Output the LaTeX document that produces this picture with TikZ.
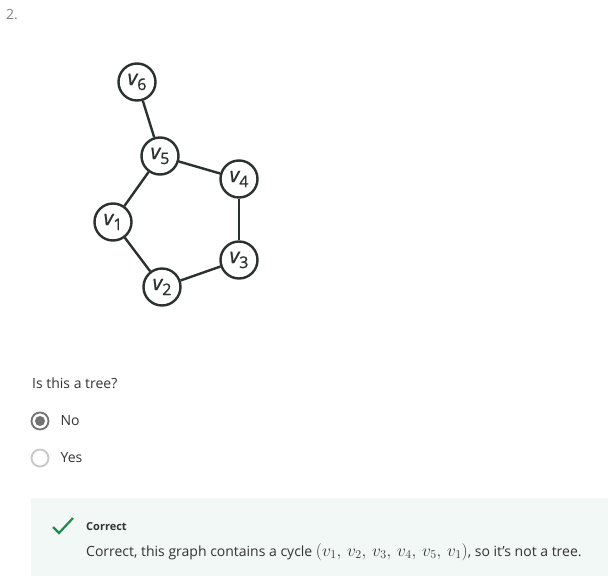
\documentclass[tikz,border=0pt]{standalone}
\usepackage{amsmath}
\usepackage{fontspec}
\setmainfont{Open Sans}
\newfontfamily\labfont[FakeBold=0.9]{Open Sans}
\usetikzlibrary{positioning}
\definecolor{ink}{HTML}{2B3031}
\definecolor{txt}{HTML}{333333}
\definecolor{okbg}{HTML}{F2F8F6}
\definecolor{okgreen}{HTML}{1F8A4E}
\tikzset{vert/.style={draw=ink,circle,line width=2.4pt,minimum size=37pt,inner sep=0pt,fill=white,text=ink}}
\tikzset{ed/.style={draw=ink,line width=2.4pt}}
\tikzset{body/.style={anchor=base west,inner sep=0pt,text=txt,font=\fontsize{14}{17}\selectfont}}
\tikzset{radio/.style={circle,line width=1.8pt,minimum size=17pt,inner sep=0pt}}
\newcommand{\vlab}[1]{{\labfont\fontsize{21}{21}\selectfont\itshape v}\raisebox{-5pt}{\labfont\fontsize{16}{16}\selectfont #1}}

\begin{document}
\begin{tikzpicture}[x=1pt,y=-1pt]
\useasboundingbox (0,0) rectangle (608,580);

\node[body,text=gray] (num) at (6,20) {2.};

% the graph
\node[vert] (v6) at (137,82) {\vlab{6}};
\node[vert] (v5) at (160,156) {\vlab{5}};
\node[vert] (v4) at (239,179) {\vlab{4}};
\node[vert] (v1) at (113,222) {\vlab{1}};
\node[vert] (v3) at (239,260) {\vlab{3}};
\node[vert] (v2) at (162,287) {\vlab{2}};

\draw[ed] (v6) -- (v5);
\draw[ed] (v5) -- (v4);
\draw[ed] (v5) -- (v1);
\draw[ed] (v1) -- (v2);
\draw[ed] (v2) -- (v3);
\draw[ed] (v3) -- (v4);

% question and answers
\node[body] (q) at (32,388) {Is this a tree?};
\node[radio,draw=gray!110] (rno) at (40,421) {};
\fill[gray!110] (rno) circle (5);
\node[radio,draw=gray!45] (ryes) at (40,458) {};
\node[body,anchor=west] (no) [right=11pt of rno] {No};
\node[body,anchor=west] (yes) [right=11pt of ryes] {Yes};

% feedback
\fill[okbg] (31,498) rectangle (608,576);
\coordinate (c1) at (53,527);
\coordinate (c2) at (59,533);
\coordinate (c3) at (73,518);
\draw[okgreen,line width=2.2pt] (c1) -- (c2) -- (c3);
\node[body,font=\fontsize{11}{13}\selectfont\bfseries] (ok) at (86,530) {Correct};
\node[body] (msg) at (86,556) {Correct, this graph contains a cycle {\fontsize{16.5}{17}\selectfont$(v_1,\,v_2,\,v_3,\,v_4,\,v_5,\,v_1)$}, so it's not a tree.};
\end{tikzpicture}
\end{document}
